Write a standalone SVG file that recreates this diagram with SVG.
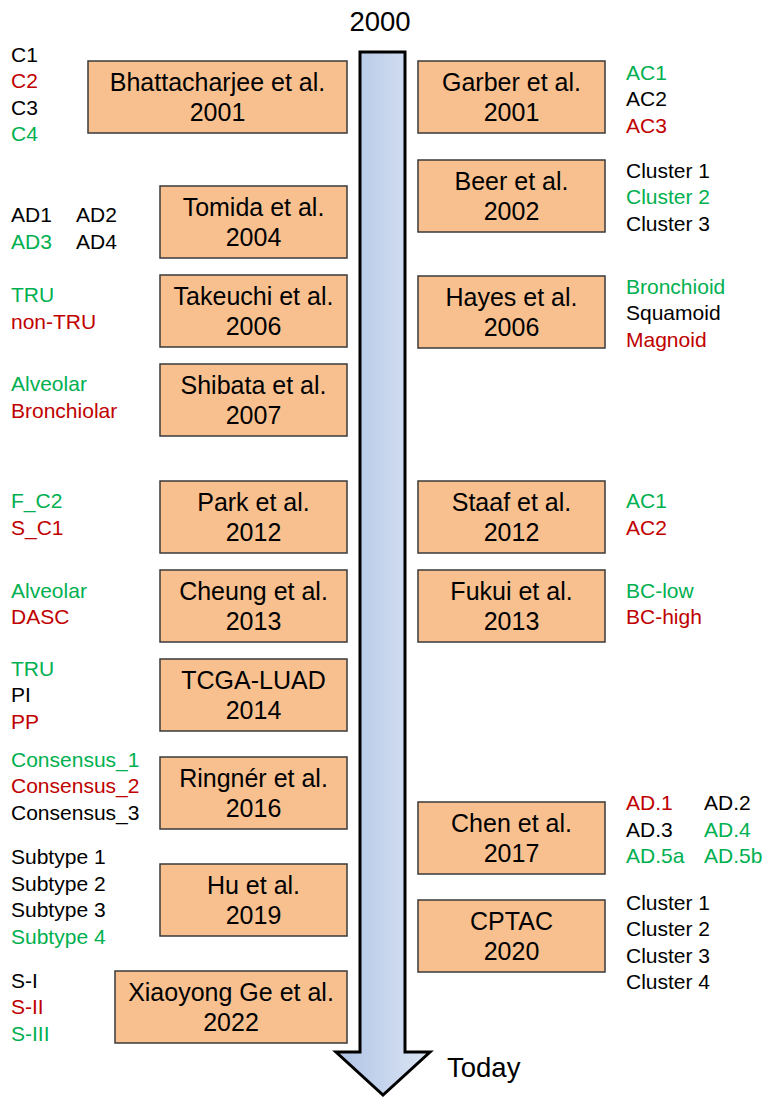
<svg xmlns="http://www.w3.org/2000/svg" width="767" height="1097" viewBox="0 0 767 1097">
<style>
text{font-family:"Liberation Sans",Arial,sans-serif}
.box rect{fill:#F8C08F;stroke:#3a3a3a;stroke-width:1.5}
.box text{font-size:25px;text-anchor:middle;fill:#000}
.lb{font-size:21px;fill:#000}
.g{fill:#00B050}
.r{fill:#C00000}
.big{font-size:27.5px;fill:#000}
</style>
<defs>
<linearGradient id="ag" x1="0" y1="0" x2="1" y2="0">
<stop offset="0" stop-color="#AFC3E6"/>
<stop offset="1" stop-color="#DCE5F4"/>
</linearGradient>
</defs>
<rect width="767" height="1097" fill="#fff"/>
<g id="timeline">
<path d="M360,52 L405,52 L405,1052 L430,1052 L383,1095 L336,1052 L360,1052 Z" fill="url(#ag)" stroke="#000" stroke-width="3" stroke-linejoin="miter"/>
<text class="big" x="380" y="31" text-anchor="middle">2000</text>
<text class="big" x="447" y="1077">Today</text>
</g>
<g id="connectors"></g>
<g id="n-bhattacharjee" class="box"><rect x="88" y="61" width="259" height="72"/><text x="217.5" y="91">Bhattacharjee et al.</text><text x="217.5" y="121">2001</text></g>
<g id="n-tomida" class="box"><rect x="160" y="186" width="187" height="72"/><text x="253.5" y="216">Tomida et al.</text><text x="253.5" y="246">2004</text></g>
<g id="n-takeuchi" class="box"><rect x="160" y="275" width="187" height="72"/><text x="253.5" y="305">Takeuchi et al.</text><text x="253.5" y="335">2006</text></g>
<g id="n-shibata" class="box"><rect x="160" y="364" width="187" height="72"/><text x="253.5" y="394">Shibata et al.</text><text x="253.5" y="424">2007</text></g>
<g id="n-park" class="box"><rect x="160" y="481" width="187" height="72"/><text x="253.5" y="511">Park et al.</text><text x="253.5" y="541">2012</text></g>
<g id="n-cheung" class="box"><rect x="160" y="570" width="187" height="72"/><text x="253.5" y="600">Cheung et al.</text><text x="253.5" y="630">2013</text></g>
<g id="n-tcga" class="box"><rect x="160" y="659" width="187" height="72"/><text x="253.5" y="689">TCGA-LUAD</text><text x="253.5" y="719">2014</text></g>
<g id="n-ringner" class="box"><rect x="160" y="757" width="187" height="72"/><text x="253.5" y="787">Ringnér et al.</text><text x="253.5" y="817">2016</text></g>
<g id="n-hu" class="box"><rect x="160" y="864" width="187" height="72"/><text x="253.5" y="894">Hu et al.</text><text x="253.5" y="924">2019</text></g>
<g id="n-ge" class="box"><rect x="115" y="971" width="232" height="72"/><text x="231" y="1001">Xiaoyong Ge et al.</text><text x="231" y="1031">2022</text></g>
<g id="n-garber" class="box"><rect x="418" y="61" width="187" height="72"/><text x="511.5" y="91">Garber et al.</text><text x="511.5" y="121">2001</text></g>
<g id="n-beer" class="box"><rect x="418" y="160" width="187" height="72"/><text x="511.5" y="190">Beer et al.</text><text x="511.5" y="220">2002</text></g>
<g id="n-hayes" class="box"><rect x="418" y="276" width="187" height="72"/><text x="511.5" y="306">Hayes et al.</text><text x="511.5" y="336">2006</text></g>
<g id="n-staaf" class="box"><rect x="418" y="481" width="187" height="72"/><text x="511.5" y="511">Staaf et al.</text><text x="511.5" y="541">2012</text></g>
<g id="n-fukui" class="box"><rect x="418" y="570" width="187" height="72"/><text x="511.5" y="600">Fukui et al.</text><text x="511.5" y="630">2013</text></g>
<g id="n-chen" class="box"><rect x="418" y="802" width="187" height="72"/><text x="511.5" y="832">Chen et al.</text><text x="511.5" y="862">2017</text></g>
<g id="n-cptac" class="box"><rect x="418" y="900" width="187" height="72"/><text x="511.5" y="930">CPTAC</text><text x="511.5" y="960">2020</text></g>
<g id="labels-left">
<text class="lb" x="11" y="62">C1</text>
<text class="lb r" x="11" y="88">C2</text>
<text class="lb" x="11" y="115">C3</text>
<text class="lb g" x="11" y="141">C4</text>
<text class="lb" x="11" y="222">AD1</text>
<text class="lb" x="76" y="222">AD2</text>
<text class="lb g" x="11" y="249">AD3</text>
<text class="lb" x="76" y="249">AD4</text>
<text class="lb g" x="11" y="302">TRU</text>
<text class="lb r" x="11" y="329">non-TRU</text>
<text class="lb g" x="11" y="391">Alveolar</text>
<text class="lb r" x="11" y="418">Bronchiolar</text>
<text class="lb g" x="11" y="508">F_C2</text>
<text class="lb r" x="11" y="535">S_C1</text>
<text class="lb g" x="11" y="598">Alveolar</text>
<text class="lb r" x="11" y="624">DASC</text>
<text class="lb g" x="11" y="676">TRU</text>
<text class="lb" x="11" y="702">PI</text>
<text class="lb r" x="11" y="729">PP</text>
<text class="lb g" x="11" y="767">Consensus_1</text>
<text class="lb r" x="11" y="793">Consensus_2</text>
<text class="lb" x="11" y="820">Consensus_3</text>
<text class="lb" x="11" y="864">Subtype 1</text>
<text class="lb" x="11" y="891">Subtype 2</text>
<text class="lb" x="11" y="917">Subtype 3</text>
<text class="lb g" x="11" y="944">Subtype 4</text>
<text class="lb" x="11" y="988">S-I</text>
<text class="lb r" x="11" y="1014">S-II</text>
<text class="lb g" x="11" y="1041">S-III</text>
</g>
<g id="labels-right">
<text class="lb g" x="626" y="80">AC1</text>
<text class="lb" x="626" y="106">AC2</text>
<text class="lb r" x="626" y="133">AC3</text>
<text class="lb" x="626" y="178">Cluster 1</text>
<text class="lb g" x="626" y="204">Cluster 2</text>
<text class="lb" x="626" y="231">Cluster 3</text>
<text class="lb g" x="626" y="294">Bronchioid</text>
<text class="lb" x="626" y="320">Squamoid</text>
<text class="lb r" x="626" y="347">Magnoid</text>
<text class="lb g" x="626" y="508">AC1</text>
<text class="lb r" x="626" y="535">AC2</text>
<text class="lb g" x="626" y="598">BC-low</text>
<text class="lb r" x="626" y="624">BC-high</text>
<text class="lb r" x="626" y="810">AD.1</text>
<text class="lb" x="704" y="810">AD.2</text>
<text class="lb" x="626" y="837">AD.3</text>
<text class="lb g" x="704" y="837">AD.4</text>
<text class="lb g" x="626" y="863">AD.5a</text>
<text class="lb g" x="704" y="863">AD.5b</text>
<text class="lb" x="626" y="910">Cluster 1</text>
<text class="lb" x="626" y="936">Cluster 2</text>
<text class="lb" x="626" y="963">Cluster 3</text>
<text class="lb" x="626" y="989">Cluster 4</text>
</g>
</svg>
